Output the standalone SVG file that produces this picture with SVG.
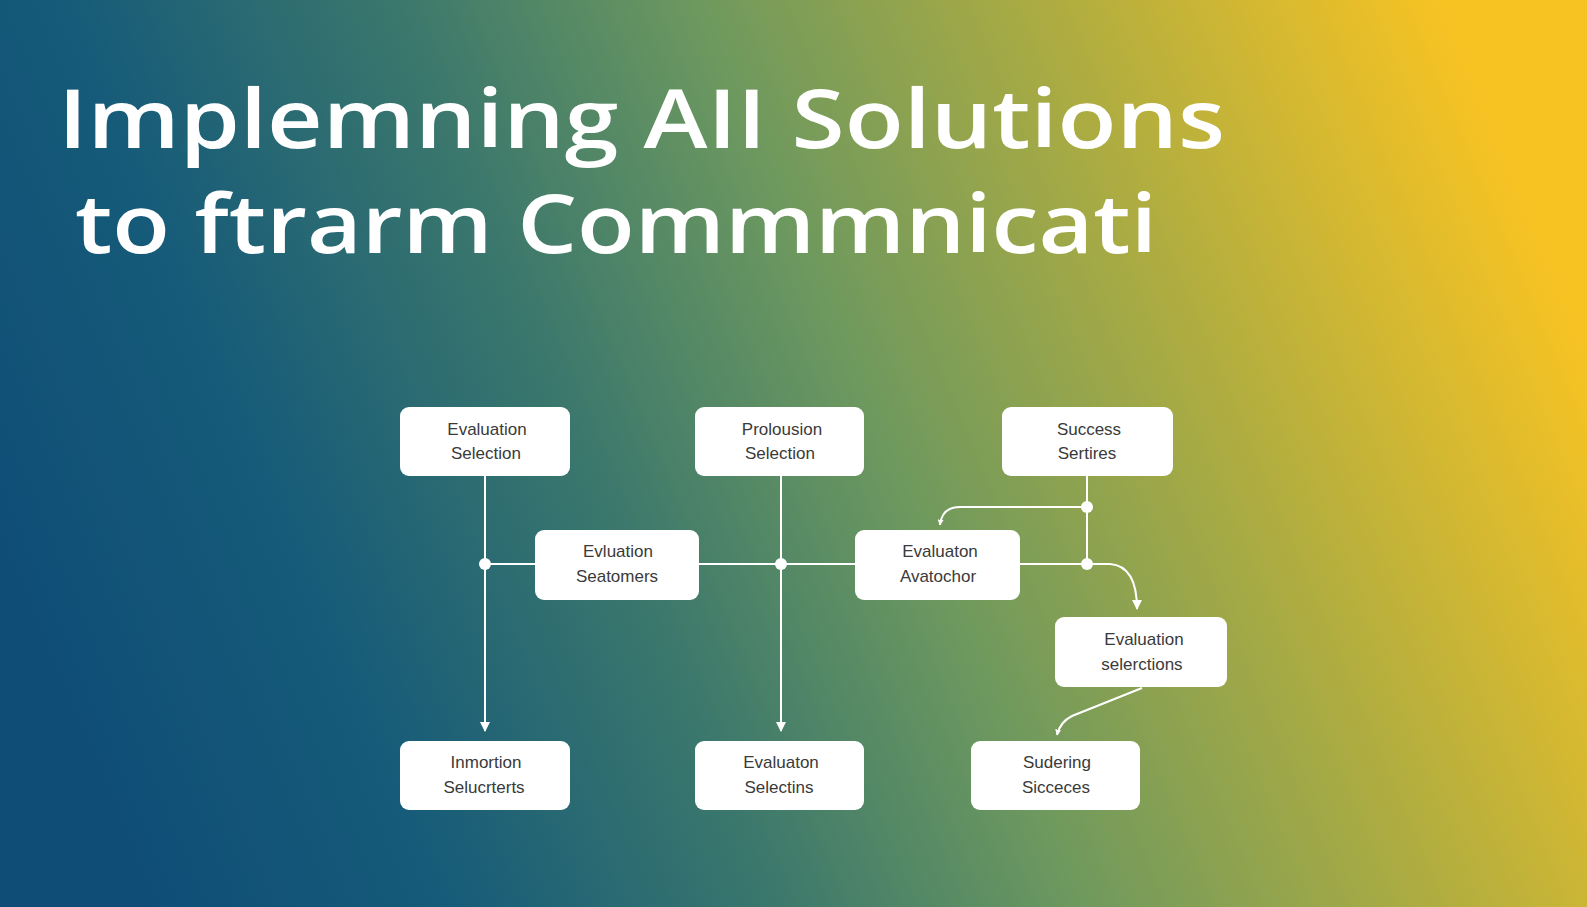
<svg xmlns="http://www.w3.org/2000/svg" width="1587" height="907" viewBox="0 0 1587 907">
<defs>
<linearGradient id="bg" x1="0" y1="0.62" x2="1" y2="0.38">
<stop offset="0" stop-color="#0f4d76"/>
<stop offset="0.18" stop-color="#165b79"/>
<stop offset="0.38" stop-color="#3c786c"/>
<stop offset="0.55" stop-color="#6c985f"/>
<stop offset="0.75" stop-color="#a9ab43"/>
<stop offset="1" stop-color="#f7c323"/>
</linearGradient>
<marker id="ar" viewBox="0 0 10 10" refX="9" refY="5" markerWidth="10" markerHeight="10" markerUnits="userSpaceOnUse" orient="auto"><path d="M0,0L10,5L0,10z" fill="#fff"/></marker>
<marker id="ars" viewBox="0 0 10 10" refX="9" refY="5" markerWidth="6" markerHeight="6" markerUnits="userSpaceOnUse" orient="auto"><path d="M0,0L10,5L0,10z" fill="#fff"/></marker>
</defs>
<style>
.t{font-family:"Open Sans","Liberation Sans",sans-serif;font-weight:600;font-size:82px;fill:#fff}
.n rect{fill:#fff}
.n text{font-family:"Liberation Sans",Arial,sans-serif;font-size:17px;fill:#3a3a3a;text-anchor:middle}
.c path{fill:none;stroke:#fff;stroke-width:2}
.c circle{fill:#fff}
</style>
<rect width="1587" height="907" fill="url(#bg)"/>
<text class="t" x="58" y="148" textLength="1167" lengthAdjust="spacingAndGlyphs">Implemning AII Solutions</text>
<text class="t" x="75" y="253" textLength="1082" lengthAdjust="spacingAndGlyphs">to ftrarm Commmnicati</text>
<g class="c" id="connectors">
<path d="M485,564H535M699,564H855M1020,564H1087M1087,476V564"/>
<path d="M485,476V731" marker-end="url(#ar)"/>
<path d="M781,476V731" marker-end="url(#ar)"/>
<path d="M1087,507H960Q942,507 940,525" marker-end="url(#ars)"/>
<path d="M1087,564H1110Q1137,566 1137,609" marker-end="url(#ar)"/>
<path d="M1142,688L1072,716Q1060,722 1057,735" marker-end="url(#ars)"/>
<circle cx="485" cy="564" r="6"/><circle cx="781" cy="564" r="6"/><circle cx="1087" cy="564" r="6"/><circle cx="1087" cy="507" r="6"/>
</g>
<g class="n" id="nA"><rect x="400" y="407" width="170" height="69" rx="9"/><text x="487" y="435">Evaluation</text><text x="486" y="459">Selection</text></g>
<g class="n" id="nB"><rect x="695" y="407" width="169" height="69" rx="9"/><text x="782" y="435">Prolousion</text><text x="780" y="459">Selection</text></g>
<g class="n" id="nC"><rect x="1002" y="407" width="171" height="69" rx="9"/><text x="1089" y="435">Success</text><text x="1087" y="459">Sertires</text></g>
<g class="n" id="nD"><rect x="535" y="530" width="164" height="70" rx="9"/><text x="618" y="557">Evluation</text><text x="617" y="582">Seatomers</text></g>
<g class="n" id="nE"><rect x="855" y="530" width="165" height="70" rx="9"/><text x="940" y="557">Evaluaton</text><text x="938" y="582">Avatochor</text></g>
<g class="n" id="nF"><rect x="1055" y="617" width="172" height="70" rx="9"/><text x="1144" y="645">Evaluation</text><text x="1142" y="670">selerctions</text></g>
<g class="n" id="nG"><rect x="400" y="741" width="170" height="69" rx="9"/><text x="486" y="768">Inmortion</text><text x="484" y="793">Selucrterts</text></g>
<g class="n" id="nH"><rect x="695" y="741" width="169" height="69" rx="9"/><text x="781" y="768">Evaluaton</text><text x="779" y="793">Selectins</text></g>
<g class="n" id="nI"><rect x="971" y="741" width="169" height="69" rx="9"/><text x="1057" y="768">Sudering</text><text x="1056" y="793">Sicceces</text></g>
</svg>
